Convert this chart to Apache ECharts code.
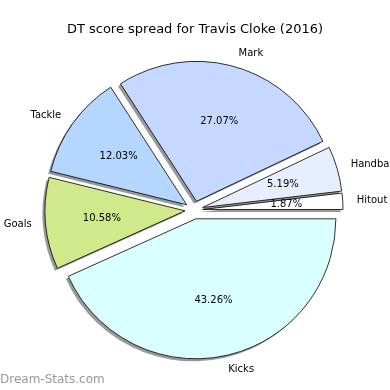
<!DOCTYPE html>
<html>
<head>
<meta charset="utf-8">
<script src="https://cdn.jsdelivr.net/npm/echarts@6/dist/echarts.min.js"></script>
<style>html,body{margin:0;padding:0;background:#fff}#c{width:390px;height:390px}</style>
</head>
<body>
<div id="c"></div>
<script>
const categories = ['Hitout', 'Handball', 'Mark', 'Tackle', 'Goals', 'Kicks'];
const values = [1.87, 5.19, 27.07, 12.03, 10.58, 43.26];
const colors = ['#ffffff', '#e7efff', '#c5d8ff', '#b4d6ff', '#d0e98b', '#d9ffff'];
const titleText = 'DT score spread for Travis Cloke (2016)';

const chart = echarts.init(document.getElementById('c'), null, {renderer: 'canvas'});
const FONT = '"DejaVu Sans", sans-serif';
const CENTER = [194, 210];
const R = 140;
const OFF = 9;

const fillData = categories.map((n, i) => ({
  name: n, value: values[i], selected: true,
  itemStyle: {color: colors[i]}
}));
const plainData = categories.map((n, i) => ({
  name: n, value: values[i], selected: true
}));

const common = {
  type: 'pie', center: CENTER,
  startAngle: 0, clockwise: false,
  selectedMode: 'multiple', selectedOffset: OFF,
  avoidLabelOverlap: false, silent: true,
  emphasis: {disabled: true}
};

chart.setOption({
  animation: false,
  backgroundColor: '#ffffff',
  title: {
    text: titleText, left: 'center', top: 18,
    textStyle: {fontFamily: FONT, fontSize: 13, fontWeight: 'normal', color: '#000'}
  },
  graphic: [{
    type: 'text', left: 0, top: 374,
    style: {text: 'Dream-Stats.com', fontFamily: FONT, fontSize: 12, fill: '#999999'}
  }],
  series: [
    Object.assign({}, common, {
      radius: [0, R],
      itemStyle: {borderWidth: 0,
        shadowColor: 'rgba(0,0,0,0.4)', shadowBlur: 0, shadowOffsetX: -2.5, shadowOffsetY: 2.5},
      label: {show: false},
      labelLine: {show: false},
      data: fillData
    }),
    Object.assign({}, common, {
      radius: [0, R],
      itemStyle: {color: 'rgba(0,0,0,0)', borderColor: '#000', borderWidth: 0.8},
      select: {itemStyle: {color: 'rgba(0,0,0,0)', borderColor: '#000', borderWidth: 0.8}},
      label: {show: true, position: 'outside', fontFamily: FONT, fontSize: 10, color: '#000',
        formatter: '{b}', distanceToLabelLine: 0},
      labelLine: {show: false, length: 14, length2: 0},
      data: plainData
    }),
    Object.assign({}, common, {
      radius: [0, R * 1.15],
      itemStyle: {color: 'rgba(0,0,0,0)', borderWidth: 0},
      select: {itemStyle: {color: 'rgba(0,0,0,0)', borderWidth: 0}},
      label: {show: true, position: 'inside', fontFamily: FONT, fontSize: 10, color: '#000',
        offset: [0, 2],
        formatter: p => p.value.toFixed(2) + '%'},
      labelLine: {show: false},
      data: plainData
    })
  ]
});
</script>
</body>
</html>
